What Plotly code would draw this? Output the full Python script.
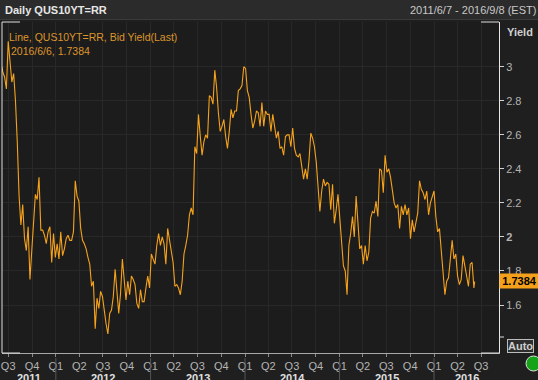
import pandas as pd
import plotly.graph_objects as go

# ---------------- data (weekly closes) ----------------
start_date = "2011-06-07"
start_value = 3.00
y2011 = [2.97, 2.94, 2.87, 3.15, 3.03, 2.91, 2.96, 2.80, 2.56, 2.24, 2.07, 2.19,
         1.99, 1.92, 2.06, 1.75, 1.92, 2.08, 2.25, 2.22, 2.35, 2.04, 2.04, 2.01,
         1.96, 2.03, 2.06, 1.85, 2.02, 1.88]
y2012 = [1.96, 1.87, 2.03, 1.89, 1.93, 1.99, 2.01, 1.98, 1.98, 2.03, 2.33, 2.24,
         2.21, 2.05, 1.98, 1.96, 1.93, 1.88, 1.84, 1.71, 1.74, 1.46, 1.64, 1.58,
         1.68, 1.65, 1.55, 1.49, 1.43, 1.55, 1.57, 1.65, 1.81, 1.68, 1.55, 1.67,
         1.87, 1.75, 1.63, 1.74, 1.66, 1.77, 1.75, 1.72, 1.61, 1.58, 1.69, 1.62,
         1.62, 1.70, 1.77, 1.70]
y2013 = [1.90, 1.87, 1.84, 1.95, 2.02, 1.95, 2.00, 1.96, 1.84, 2.05, 1.99, 1.93,
         1.85, 1.71, 1.72, 1.70, 1.66, 1.74, 1.90, 1.95, 2.01, 2.13, 2.17, 2.13,
         2.53, 2.49, 2.72, 2.59, 2.48, 2.56, 2.60, 2.58, 2.83, 2.82, 2.78, 2.98,
         2.88, 2.73, 2.62, 2.65, 2.69, 2.59, 2.52, 2.62, 2.75, 2.70, 2.74, 2.74,
         2.86, 2.87, 2.89, 3.00]
y2014 = [2.99, 2.86, 2.82, 2.72, 2.64, 2.68, 2.74, 2.73, 2.65, 2.79, 2.65, 2.74,
         2.72, 2.72, 2.62, 2.72, 2.66, 2.58, 2.62, 2.52, 2.53, 2.48, 2.59, 2.60,
         2.60, 2.53, 2.64, 2.52, 2.48, 2.47, 2.49, 2.42, 2.34, 2.40, 2.34, 2.45,
         2.61, 2.58, 2.53, 2.44, 2.31, 2.15, 2.27, 2.34, 2.30, 2.32, 2.31, 2.16,
         2.31, 2.08, 2.16, 2.25]
y2015 = [2.11, 1.95, 1.83, 1.80, 1.66, 1.95, 2.02, 2.12, 2.00, 2.24, 2.11, 1.93,
         1.95, 1.84, 1.95, 1.86, 1.91, 2.11, 2.15, 2.14, 2.21, 2.12, 2.40, 2.39,
         2.26, 2.48, 2.38, 2.40, 2.35, 2.26, 2.20, 2.17, 2.19, 2.05, 2.18, 2.13,
         2.19, 2.13, 2.17, 1.99, 2.10, 2.03, 2.08, 2.14, 2.33, 2.28, 2.26, 2.22,
         2.27, 2.13, 2.20, 2.24]
y2016 = [2.27, 2.12, 2.03, 2.05, 1.92, 1.84, 1.66, 1.74, 1.76, 1.87, 1.98, 1.87,
         1.90, 1.77, 1.72, 1.75, 1.89, 1.83, 1.78, 1.71, 1.84, 1.85, 1.70]
end_date = "2016-06-06"
end_value = 1.7384

first_fridays = {2011: "2011-06-10", 2012: "2012-01-06", 2013: "2013-01-04",
                 2014: "2014-01-03", 2015: "2015-01-02", 2016: "2016-01-01"}
year_values = {2011: y2011, 2012: y2012, 2013: y2013, 2014: y2014, 2015: y2015, 2016: y2016}

quarter_ticks = ["2011-07-01", "2011-10-01", "2012-01-01", "2012-04-01", "2012-07-01",
                 "2012-10-01", "2013-01-01", "2013-04-01", "2013-07-01", "2013-10-01",
                 "2014-01-01", "2014-04-01", "2014-07-01", "2014-10-01", "2015-01-01",
                 "2015-04-01", "2015-07-01", "2015-10-01", "2016-01-01", "2016-04-01",
                 "2016-07-01"]
quarter_labels = ["Q3", "Q4", "Q1", "Q2", "Q3", "Q4", "Q1", "Q2", "Q3", "Q4", "Q1",
                  "Q2", "Q3", "Q4", "Q1", "Q2", "Q3", "Q4", "Q1", "Q2", "Q3"]
years = [2011, 2012, 2013, 2014, 2015, 2016]
y_ticks = [1.6, 1.8, 2.0, 2.2, 2.4, 2.6, 2.8, 3.0]
y_labels = ["1.6", "1.8", "<b>2</b>", "2.2", "2.4", "2.6", "2.8", "3"]
x_range = ["2011-06-07", "2016-09-08"]
y_range = [1.318, 3.263]

# ---------------- build series ----------------
dates = [pd.Timestamp(start_date)]
values = [start_value]
for yr in years:
    vals = year_values[yr]
    d = pd.date_range(first_fridays[yr], periods=len(vals), freq="7D")
    dates.extend(list(d))
    values.extend(vals)
dates.append(pd.Timestamp(end_date))
values.append(end_value)

# ---------------- layout helpers ----------------
W, H = 538, 380
PL, PR, PT, PB = 2, 499, 22, 353


def px(x):
    return (x - PL) / (PR - PL)


def py(y):
    return (PB - y) / (PB - PT)


FONT = "Liberation Sans"
ORANGE = "#f5a21c"

fig = go.Figure()
fig.add_trace(go.Scatter(x=dates, y=values, mode="lines",
                         line=dict(color=ORANGE, width=1.1), hoverinfo="skip"))

shapes = []
# header bar
shapes.append(dict(type="rect", xref="paper", yref="paper", x0=px(0), x1=px(W),
                   y0=py(0), y1=py(19), fillcolor="#2b2b2b", line=dict(width=0), layer="below"))
shapes.append(dict(type="line", xref="paper", yref="paper", x0=px(0), x1=px(W),
                   y0=py(19.5), y1=py(19.5), line=dict(color="#3a3a3a", width=1)))
# frame brackets
for (x0, y0, x1, y1) in [(2, 22, 20, 22), (481, 22, 499, 22), (2, 353, 20, 353),
                         (481, 353, 499, 353), (2, 22, 2, 353), (499, 337, 504, 337)]:
    shapes.append(dict(type="line", xref="paper", yref="paper", x0=px(x0), x1=px(x1),
                       y0=py(y0), y1=py(y1), line=dict(color="#dddddd", width=1)))
# year separators in the axis area
for yr in years[1:]:
    shapes.append(dict(type="line", xref="x", yref="paper", x0=f"{yr}-01-01", x1=f"{yr}-01-01",
                       y0=py(358), y1=py(382), line=dict(color="#555555", width=1)))
# green status dot
shapes.append(dict(type="circle", xref="paper", yref="paper", x0=px(526), x1=px(541),
                   y0=py(371), y1=py(356), fillcolor="#17a317", line=dict(color="#e0e0e0", width=1)))

annotations = []
annotations.append(dict(xref="paper", yref="paper", x=px(3), y=py(10.5), xanchor="left",
                        yanchor="middle", showarrow=False, text="<b>Daily QUS10YT=RR</b>",
                        font=dict(family=FONT, size=11, color="#e6e6e6")))
annotations.append(dict(xref="paper", yref="paper", x=px(408), y=py(10.5), xanchor="left",
                        yanchor="middle", showarrow=False, text="2011/6/7 - 2016/9/8 (EST)",
                        font=dict(family=FONT, size=11, color="#c8c8c8")))
annotations.append(dict(xref="paper", yref="paper", x=px(7), y=py(37), xanchor="left",
                        yanchor="middle", showarrow=False, text="Line, QUS10YT=RR, Bid Yield(Last)",
                        font=dict(family=FONT, size=10.5, color="#dc952c")))
annotations.append(dict(xref="paper", yref="paper", x=px(9), y=py(51), xanchor="left",
                        yanchor="middle", showarrow=False, text=f"2016/6/6, {end_value:.4f}",
                        font=dict(family=FONT, size=10.5, color="#dc952c")))
annotations.append(dict(xref="paper", yref="paper", x=px(505), y=py(32), xanchor="left",
                        yanchor="middle", showarrow=False, text="<b>Yield</b>",
                        font=dict(family=FONT, size=11, color="#d0d0d0")))
annotations.append(dict(xref="paper", yref="y", x=1.0, y=end_value, xanchor="left",
                        yanchor="middle", showarrow=False, text=f"<b>{end_value:.4f}</b>",
                        bgcolor="#f5a01a", borderpad=1, width=37,
                        font=dict(family=FONT, size=11, color="#000000")))
annotations.append(dict(xref="paper", yref="paper", x=px(520), y=py(346), xanchor="center",
                        yanchor="middle", showarrow=False, text="<b>Auto</b>",
                        bgcolor="#2e2e2e", bordercolor="#bdbdbd", borderwidth=1, borderpad=0,
                        font=dict(family=FONT, size=11, color="#cfcfcf")))
# year labels centred on visible span of each year
x0r, x1r = pd.Timestamp(x_range[0]), pd.Timestamp(x_range[1])
for yr in years:
    a = max(pd.Timestamp(f"{yr}-01-01"), x0r)
    b = min(pd.Timestamp(f"{yr + 1}-01-01"), x1r)
    mid = a + (b - a) / 2
    annotations.append(dict(xref="x", yref="paper", x=mid, y=py(370), xanchor="center",
                            yanchor="top", showarrow=False, text=f"<b>{yr}</b>",
                            font=dict(family=FONT, size=11, color="#e0e0e0")))

fig.update_layout(
    width=W, height=H,
    margin=dict(l=PL, r=W - PR, t=PT, b=H - PB, pad=0),
    paper_bgcolor="#1f1f1f", plot_bgcolor="#1c1c1c",
    showlegend=False,
    shapes=shapes, annotations=annotations,
    xaxis=dict(type="date", range=x_range, tickmode="array", tickvals=quarter_ticks,
               ticktext=quarter_labels, ticks="outside", ticklen=3, tickcolor="#8a8a8a",
               showline=True, linecolor="#a8a8a8", linewidth=1, showgrid=True,
               gridcolor="#282828", gridwidth=1, zeroline=False,
               tickfont=dict(family=FONT, size=11, color="#b4b4b4"), fixedrange=True),
    yaxis=dict(side="right", range=y_range, tickmode="array", tickvals=y_ticks,
               ticktext=y_labels, ticks="outside", ticklen=4, tickcolor="#cfcfcf",
               showline=True, linecolor="#e6e6e6", linewidth=1, showgrid=True,
               gridcolor="#282828", gridwidth=1, zeroline=False,
               tickfont=dict(family=FONT, size=11, color="#b4b4b4"), fixedrange=True),
)

fig.write_html("out.html", config={"displayModeBar": False})
